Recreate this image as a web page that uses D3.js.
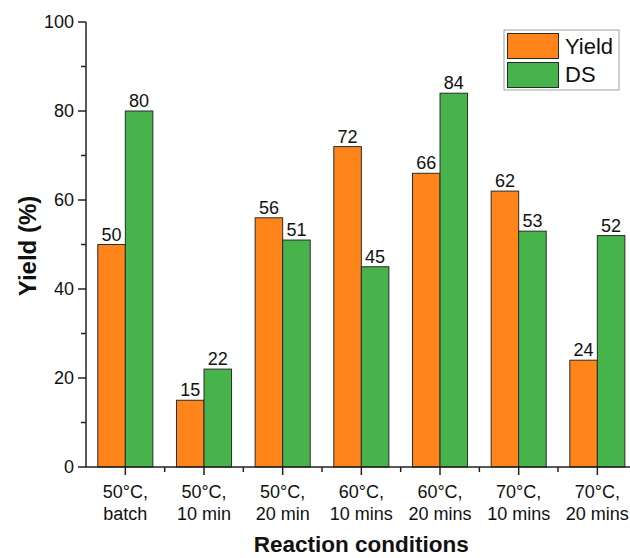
<!DOCTYPE html>
<html><head><meta charset="utf-8">
<script src="https://cdn.jsdelivr.net/npm/d3@7"></script>
<style>body{margin:0;background:#fff}svg{display:block}</style>
</head><body>
<svg id="c" width="630" height="558"></svg>
<script>
const categories = [["50°C,","batch"],["50°C,","10 min"],["50°C,","20 min"],["60°C,","10 mins"],["60°C,","20 mins"],["70°C,","10 mins"],["70°C,","20 mins"]];
const yieldValues = [50,15,56,72,66,62,24];
const dsValues = [80,22,51,45,84,53,52];
const seriesNames = ["Yield","DS"];
const yTicks = [0,20,40,60,80,100];
const yMinorTicks = [10,30,50,70,90];

const colors = {Yield:"#FF851B", DS:"#47B34B"};
const font = "'Liberation Sans', Arial, sans-serif";
const svg = d3.select("#c");
const x0 = 86, x1 = 86 + 7*78.67, yTop = 22, yBot = 467;
const keys = categories.map((c,i)=>i);
const x = d3.scaleBand().domain(keys).range([x0,x1]).paddingInner(0.3).paddingOuter(0.15);
const xs = d3.scaleBand().domain(seriesNames).range([0,x.bandwidth()]);
const y = d3.scaleLinear().domain([0,100]).range([yBot,yTop]);
const data = keys.map(i=>({i, Yield:yieldValues[i], DS:dsValues[i]}));

// bars
const g = svg.append("g");
data.forEach(d=>{
  seriesNames.forEach(s=>{
    g.append("rect").attr("x",x(d.i)+xs(s)).attr("y",y(d[s]))
      .attr("width",xs.bandwidth()).attr("height",y(0)-y(d[s]))
      .attr("fill",colors[s]).attr("stroke","#2b2b2b").attr("stroke-width",1);
    g.append("text").attr("x",x(d.i)+xs(s)+xs.bandwidth()/2).attr("y",y(d[s])-4)
      .attr("text-anchor","middle").attr("font-family",font).attr("font-size",18)
      .attr("fill","#111").text(d[s]);
  });
});

// y axis
const ya = svg.append("g").attr("stroke","#222");
ya.append("line").attr("x1",x0).attr("x2",x0).attr("y1",yTop).attr("y2",yBot).attr("stroke-width",1.5);
yTicks.forEach(t=>{
  ya.append("line").attr("x1",x0-8).attr("x2",x0).attr("y1",y(t)).attr("y2",y(t)).attr("stroke-width",1.5);
  svg.append("text").attr("x",x0-12).attr("y",y(t)).attr("dy","0.36em").attr("text-anchor","end")
    .attr("font-family",font).attr("font-size",18).attr("fill","#111").text(t);
});
yMinorTicks.forEach(t=>{
  ya.append("line").attr("x1",x0-5).attr("x2",x0).attr("y1",y(t)).attr("y2",y(t)).attr("stroke-width",1.5);
});

// x axis
const xa = svg.append("g").attr("stroke","#222");
xa.append("line").attr("x1",x0-0.75).attr("x2",x1).attr("y1",yBot).attr("y2",yBot).attr("stroke-width",1.5);
const step = x.step();
keys.forEach(i=>{
  const cx = x(i)+x.bandwidth()/2;
  xa.append("line").attr("x1",cx).attr("x2",cx).attr("y1",yBot).attr("y2",yBot+8).attr("stroke-width",1.5);
  const bx = cx + step/2;
  xa.append("line").attr("x1",bx).attr("x2",bx).attr("y1",yBot).attr("y2",yBot+5).attr("stroke-width",1.5);
  const t = svg.append("text").attr("text-anchor","middle").attr("font-family",font).attr("font-size",18).attr("fill","#111");
  t.append("tspan").attr("x",cx).attr("y",498).text(categories[i][0]);
  t.append("tspan").attr("x",cx).attr("y",520).text(categories[i][1]);
});

// axis titles
svg.append("text").attr("x",(x0+x1)/2).attr("y",552).attr("text-anchor","middle")
  .attr("font-family",font).attr("font-size",22.5).attr("font-weight","bold").attr("fill","#111").text("Reaction conditions");
svg.append("text").attr("transform",`translate(36,246) rotate(-90)`).attr("text-anchor","middle")
  .attr("font-family",font).attr("font-size",24).attr("font-weight","bold").attr("fill","#111").text("Yield (%)");

// legend
const lg = svg.append("g");
lg.append("rect").attr("x",504).attr("y",30).attr("width",115).attr("height",60)
  .attr("fill","#fff").attr("stroke","#a0a0a0").attr("stroke-width",1);
seriesNames.forEach((s,k)=>{
  lg.append("rect").attr("x",507.5).attr("y",33.5+k*29).attr("width",51).attr("height",25)
    .attr("fill",colors[s]).attr("stroke","#2b2b2b").attr("stroke-width",1);
  lg.append("text").attr("x",565).attr("y",54+k*28).attr("font-family",font).attr("font-size",22)
    .attr("fill","#111").text(s);
});
</script>
</body></html>
